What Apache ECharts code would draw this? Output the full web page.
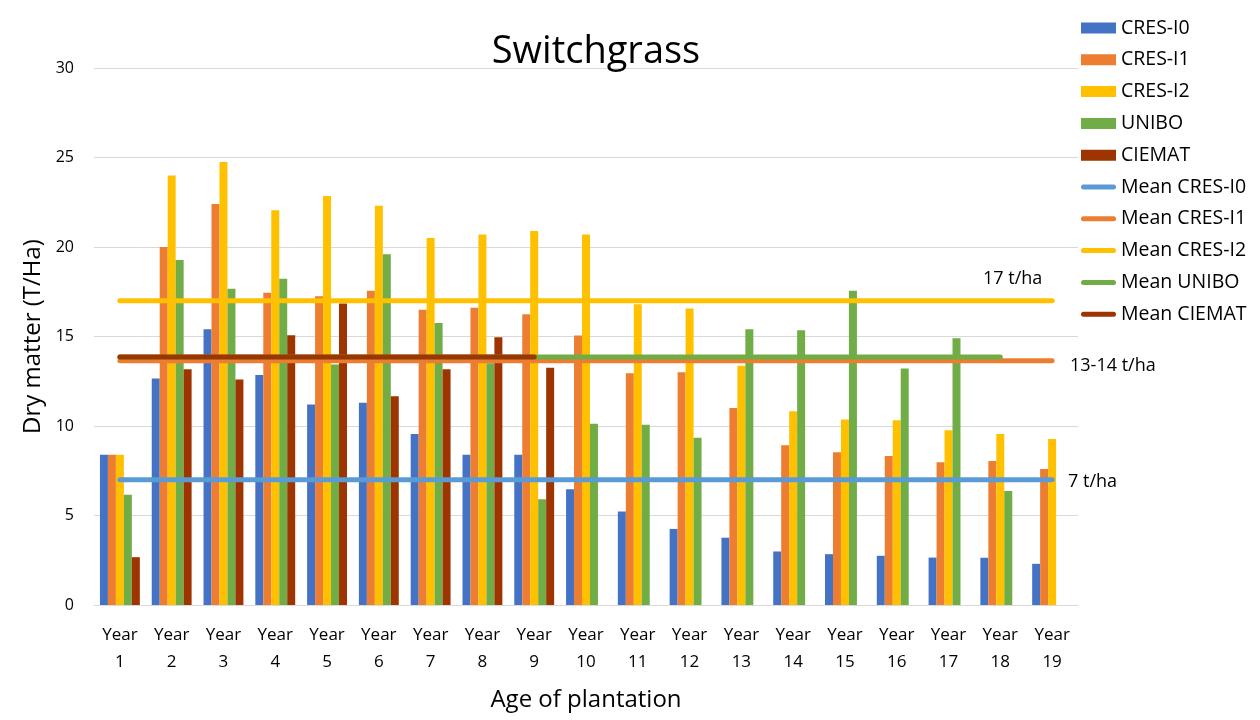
<!DOCTYPE html>
<html>
<head>
<meta charset="utf-8">
<script src="https://cdn.jsdelivr.net/npm/echarts@6/dist/echarts.min.js"></script>
<style>
html,body{margin:0;padding:0;background:#fff;}
#chart{width:1260px;height:720px;}
</style>
</head>
<body>
<div id="chart"></div>
<script>
const categories = ["Year 1","Year 2","Year 3","Year 4","Year 5","Year 6","Year 7","Year 8","Year 9","Year 10","Year 11","Year 12","Year 13","Year 14","Year 15","Year 16","Year 17","Year 18","Year 19"];
const yTicks = [0, 5, 10, 15, 20, 25, 30];

const cresI0 = [8.4, 12.65, 15.4, 12.85, 11.2, 11.3, 9.55, 8.4, 8.4, 6.47, 5.22, 4.25, 3.76, 2.99, 2.84, 2.75, 2.65, 2.64, 2.3];
const cresI1 = [8.4, 20.0, 22.4, 17.45, 17.25, 17.55, 16.5, 16.6, 16.25, 15.05, 12.95, 13.0, 11.0, 8.92, 8.54, 8.32, 7.98, 8.04, 7.6];
const cresI2 = [8.4, 24.0, 24.75, 22.05, 22.85, 22.3, 20.5, 20.7, 20.9, 20.7, 16.8, 16.57, 13.36, 10.82, 10.37, 10.32, 9.76, 9.55, 9.27];
const unibo  = [6.16, 19.27, 17.67, 18.23, 13.43, 19.6, 15.75, 13.5, 5.91, 10.13, 10.07, 9.35, 15.4, 15.35, 17.55, 13.21, 14.9, 6.37, null];
const ciemat = [2.67, 13.17, 12.6, 15.07, 16.85, 11.66, 13.17, 14.96, 13.26, null, null, null, null, null, null, null, null, null, null];

const meanCresI0 = [7, 7, 7, 7, 7, 7, 7, 7, 7, 7, 7, 7, 7, 7, 7, 7, 7, 7, 7];
const meanCresI1 = [13.65, 13.65, 13.65, 13.65, 13.65, 13.65, 13.65, 13.65, 13.65, 13.65, 13.65, 13.65, 13.65, 13.65, 13.65, 13.65, 13.65, 13.65, 13.65];
const meanCresI2 = [17, 17, 17, 17, 17, 17, 17, 17, 17, 17, 17, 17, 17, 17, 17, 17, 17, 17, 17];
const meanUnibo  = [13.85, 13.85, 13.85, 13.85, 13.85, 13.85, 13.85, 13.85, 13.85, 13.85, 13.85, 13.85, 13.85, 13.85, 13.85, 13.85, 13.85, 13.85, null];
const meanCiemat = [13.85, 13.85, 13.85, 13.85, 13.85, 13.85, 13.85, 13.85, 13.85, null, null, null, null, null, null, null, null, null, null];

const barNames = ["CRES-I0","CRES-I1","CRES-I2","UNIBO","CIEMAT"];
const barData = [cresI0, cresI1, cresI2, unibo, ciemat];
const barColors = ["#4472C4","#ED7D31","#FFC000","#70AD47","#9E3400"];
const lineNames = ["Mean CRES-I0","Mean CRES-I1","Mean CRES-I2","Mean UNIBO","Mean CIEMAT"];
const lineData = [meanCresI0, meanCresI1, meanCresI2, meanUnibo, meanCiemat];
const lineColors = ["#5B9BD5","#ED7D31","#FFC000","#70AD47","#9E3400"];

const FONT = "Open Sans";
const chart = echarts.init(document.getElementById('chart'));

const series = [];
barNames.forEach((n, i) => {
  series.push({
    name: n, type: 'bar', data: barData[i],
    itemStyle: { color: barColors[i] },
    barGap: '0%', barCategoryGap: '23%',
    animation: false
  });
});
lineNames.forEach((n, i) => {
  series.push({
    name: n, type: 'line', data: lineData[i],
    symbol: 'none', showSymbol: false,
    lineStyle: { color: lineColors[i], width: 5, cap: 'round' },
    itemStyle: { color: lineColors[i] },
    z: 3, animation: false
  });
});

const legendText = { fontFamily: FONT, fontSize: 19.5, color: '#000', lineHeight: 24 };
const ITEM_STEP = 31.8;

chart.setOption({
  animation: false,
  backgroundColor: '#fff',
  title: {
    text: 'Switchgrass', left: 591, top: 28, textAlign: 'center',
    textStyle: { fontFamily: FONT, fontSize: 38, fontWeight: 'normal', color: '#000' }
  },
  grid: { left: 94, right: 182, top: 68, bottom: 115 },
  legend: [
    {
      orient: 'vertical', left: 1081, top: 16, padding: 0,
      itemWidth: 35, itemHeight: 11, itemGap: ITEM_STEP - 24,
      textStyle: legendText,
      data: barNames.map(n => ({ name: n, icon: 'rect' }))
    },
    {
      orient: 'vertical', left: 1081, top: 16 + ITEM_STEP * 5, padding: 0,
      itemWidth: 35, itemHeight: 5, itemGap: ITEM_STEP - 24,
      textStyle: legendText,
      data: lineNames.map(n => ({ name: n, icon: 'path://M2.5,0 L32.5,0 A2.5,2.5 0 0 1 32.5,5 L2.5,5 A2.5,2.5 0 0 1 2.5,0 Z' }))
    }
  ],
  xAxis: {
    type: 'category', data: categories,
    axisLine: { lineStyle: { color: '#d9d9d9', width: 1 } },
    axisTick: { show: false },
    axisLabel: {
      interval: 0, margin: 17, color: '#000', fontFamily: FONT, fontSize: 17, lineHeight: 27,
      formatter: v => v.replace(' ', '\n')
    },
    name: 'Age of plantation', nameLocation: 'middle', nameGap: 83,
    nameTextStyle: { fontFamily: FONT, fontSize: 24, color: '#000' }
  },
  yAxis: {
    type: 'value', min: yTicks[0], max: yTicks[yTicks.length - 1], interval: yTicks[1] - yTicks[0],
    axisLine: { show: false }, axisTick: { show: false },
    splitLine: { lineStyle: { color: '#d9d9d9', width: 1 } },
    axisLabel: { margin: 20, color: '#000', fontFamily: FONT, fontSize: 16 },
    name: 'Dry matter (T/Ha)', nameLocation: 'middle', nameGap: 47, nameRotate: 90,
    nameTextStyle: { fontFamily: FONT, fontSize: 24, color: '#000' }
  },
  graphic: [
    { type: 'text', left: 983, top: 270, style: { text: '17 t/ha', font: '18px "Open Sans"', fill: '#000' } },
    { type: 'text', left: 1070, top: 357, style: { text: '13-14 t/ha', font: '18px "Open Sans"', fill: '#000' } },
    { type: 'text', left: 1068, top: 473, style: { text: '7 t/ha', font: '18px "Open Sans"', fill: '#000' } }
  ],
  series: series
});
</script>
</body>
</html>
